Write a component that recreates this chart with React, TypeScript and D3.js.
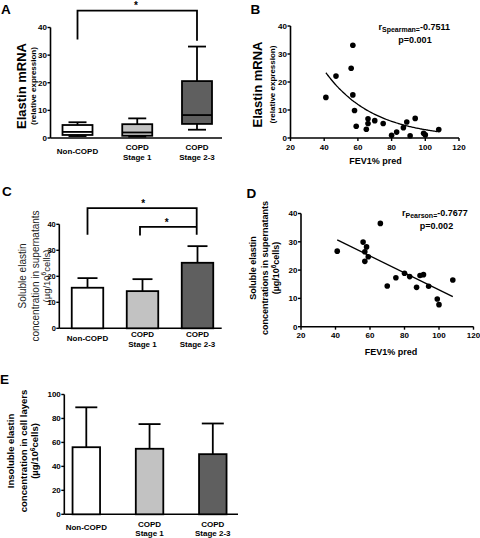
import React from "react";
import * as d3 from "d3";

// ---------- shared categories ----------
const groupKeys = ["Non-COPD", "COPD Stage 1", "COPD Stage 2-3"];
const groupLines = [["Non-COPD"], ["COPD", "Stage 1"], ["COPD", "Stage 2-3"]];
const groupFills = ["#ffffff", "#c2c2c2", "#5f5f5f"];

// ---------- A: elastin mRNA box plot ----------
const mrnaMin = [0.7, 0.5, 3.0];
const mrnaQ1 = [1.1, 0.8, 5.1];
const mrnaMedian = [2.2, 2.0, 8.3];
const mrnaQ3 = [4.7, 5.0, 20.6];
const mrnaMax = [5.7, 7.1, 33.1];
const ticksA = [0, 10, 20, 30, 40];

// ---------- B: mRNA vs FEV1 ----------
const fevB = [41, 47, 56, 57, 57, 58, 59, 65, 66, 66, 70, 75, 80, 83, 87, 89, 91, 94, 99, 100, 108];
const mrnaB = [14.5, 22.1, 24.9, 33.1, 15.4, 9.8, 4.2, 3.1, 6.9, 5.2, 6.2, 5.2, 1.0, 2.1, 3.7, 5.7, 0.8, 7.0, 1.7, 1.1, 3.0];
const fitBStart = 23.3; // fitted value at fitBFrom
const fitBRate = 0.035;
const fitBFrom = 41;
const fitBTo = 107;
const ticksBX = [20, 40, 60, 80, 100, 120];
const ticksBY = [0, 10, 20, 30, 40];

// ---------- C: soluble elastin bars ----------
const solMean = [15.6, 14.3, 25.2];
const solErr = [3.7, 4.6, 6.4];
const ticksC = [0, 10, 20, 30, 40];

// ---------- D: soluble elastin vs FEV1 ----------
const fevD = [41, 56, 58, 57, 57, 59, 66, 70, 75, 80, 83, 87, 89, 91, 94, 99, 100, 108];
const solD = [26.7, 29.9, 28.2, 26.5, 23.1, 24.7, 36.5, 14.4, 17.3, 18.9, 17.7, 13.9, 18.1, 18.4, 14.3, 9.8, 7.8, 16.5];
const fitDIntercept = 43.0;
const fitDSlope = -0.3;
const fitDFrom = 41;
const fitDTo = 108;
const ticksDX = [20, 40, 60, 80, 100, 120];
const ticksDY = [0, 10, 20, 30, 40];

// ---------- E: insoluble elastin bars ----------
const insMean = [56.0, 54.7, 50.2];
const insErr = [33.3, 20.6, 25.6];
const ticksE = [0, 20, 40, 60, 80, 100];

const FONT = "'Liberation Sans', Arial, Helvetica, sans-serif";
const SW = 1.8;

function YAxis({ x, scale, ticks, y0, y1, size = 8 }: any) {
  return (
    <g>
      <line x1={x} x2={x} y1={y0} y2={y1} stroke="#000" strokeWidth={1.6} />
      {ticks.map((t: number) => (
        <g key={t}>
          <line x1={x - 3} x2={x} y1={scale(t)} y2={scale(t)} stroke="#000" strokeWidth={1.4} />
          <text x={x - 3.5} y={scale(t)} dy="0.36em" textAnchor="end" fontSize={size} fontWeight="bold">
            {t}
          </text>
        </g>
      ))}
    </g>
  );
}

function XAxisNum({ y, scale, ticks, x0, x1 }: any) {
  return (
    <g>
      <line x1={x0} x2={x1} y1={y} y2={y} stroke="#000" strokeWidth={1.6} />
      {ticks.map((t: number) => (
        <g key={t}>
          <line x1={scale(t)} x2={scale(t)} y1={y} y2={y + 3} stroke="#000" strokeWidth={1.4} />
          <text x={scale(t)} y={y + 11.5} textAnchor="middle" fontSize={8} fontWeight="bold">
            {t}
          </text>
        </g>
      ))}
    </g>
  );
}

function CatLabels({ xs, y, size = 8 }: any) {
  return (
    <g>
      {groupLines.map((lines, i) => (
        <text key={i} x={xs[i]} y={lines.length === 1 ? y + 3.5 : y} textAnchor="middle" fontSize={size} fontWeight="bold">
          {lines.map((l, j) => (
            <tspan key={j} x={xs[i]} dy={j === 0 ? 0 : 9.5}>
              {l}
            </tspan>
          ))}
        </text>
      ))}
    </g>
  );
}

function RotText({ x, y, size, weight, fill = "#000", children }: any) {
  return (
    <text
      transform={`translate(${x},${y}) rotate(-90)`}
      textAnchor="middle"
      dy="0.35em"
      fontSize={size}
      fontWeight={weight}
      fill={fill}
    >
      {children}
    </text>
  );
}

function Units({ x, y, size, weight, fill = "#000" }: any) {
  return (
    <RotText x={x} y={y} size={size} weight={weight} fill={fill}>
      (µg/10
      <tspan dy={-3.5} fontSize={size * 0.7}>6</tspan>
      <tspan dy={3.5}>cells)</tspan>
    </RotText>
  );
}

function Bracket({ xa, xb, yTop, yLegA, yLegB }: any) {
  return (
    <path d={`M${xa},${yLegA} V${yTop} H${xb} V${yLegB}`} fill="none" stroke="#000" strokeWidth={1.8} />
  );
}

export default function App() {
  // ----- A -----
  const yA = d3.scaleLinear().domain([0, 40]).range([138, 27.5]);
  const xA = d3.scalePoint<string>().domain(groupKeys).range([77.5, 197]);
  const boxW = 30;

  // ----- B -----
  const xB = d3.scaleLinear().domain([20, 120]).range([290.5, 459]);
  const yB = d3.scaleLinear().domain([0, 40]).range([138, 26]);
  const fitBX = d3.range(fitBFrom, fitBTo + 0.01, 1);
  const fitBLine = d3
    .line<number>()
    .x((v) => xB(v))
    .y((v) => yB(fitBStart * Math.exp(-fitBRate * (v - fitBFrom))))
    .curve(d3.curveBasis);

  // ----- C -----
  const yC = d3.scaleLinear().domain([0, 40]).range([328.3, 224.3]);
  const xC = d3.scalePoint<string>().domain(groupKeys).range([87.5, 197.5]);
  const barWC = 31.5;

  // ----- D -----
  const xD = d3.scaleLinear().domain([20, 120]).range([301, 473.5]);
  const yD = d3.scaleLinear().domain([0, 40]).range([326.7, 213.5]);

  // ----- E -----
  const yE = d3.scaleLinear().domain([0, 100]).range([514.3, 394.5]);
  const xE = d3.scalePoint<string>().domain(groupKeys).range([86.3, 212.8]);
  const barWE = 27.5;

  return (
    <svg
      width={480}
      height={538}
      style={{ position: "absolute", left: 0, top: 0, background: "#fff" }}
      fontFamily={FONT}
    >
      <rect x={0} y={0} width={480} height={538} fill="#fff" />

      {/* ================= A ================= */}
      <text x={1} y={13.5} fontSize={13.5} fontWeight="bold">A</text>
      <RotText x={21.7} y={86} size={13} weight="bold">Elastin mRNA</RotText>
      <RotText x={33.3} y={86} size={8} weight="bold">(relative expression)</RotText>
      <YAxis x={50.5} scale={yA} ticks={ticksA} y0={yA(0)} y1={yA(40)} />
      <line x1={50.5} x2={222} y1={yA(0)} y2={yA(0)} stroke="#000" strokeWidth={1.6} />
      {groupKeys.map((g, i) => {
        const cx = xA(g)!;
        return (
          <g key={g}>
            <line x1={cx} x2={cx} y1={yA(mrnaMax[i])} y2={yA(mrnaQ3[i])} stroke="#000" strokeWidth={SW} />
            <line x1={cx} x2={cx} y1={yA(mrnaQ1[i])} y2={yA(mrnaMin[i])} stroke="#000" strokeWidth={SW} />
            <line x1={cx - boxW * 0.3} x2={cx + boxW * 0.3} y1={yA(mrnaMax[i])} y2={yA(mrnaMax[i])} stroke="#000" strokeWidth={SW} />
            <line x1={cx - boxW * 0.3} x2={cx + boxW * 0.3} y1={yA(mrnaMin[i])} y2={yA(mrnaMin[i])} stroke="#000" strokeWidth={SW} />
            <rect
              x={cx - boxW / 2}
              y={yA(mrnaQ3[i])}
              width={boxW}
              height={yA(mrnaQ1[i]) - yA(mrnaQ3[i])}
              fill={groupFills[i]}
              stroke="#000"
              strokeWidth={SW}
            />
            <line x1={cx - boxW / 2} x2={cx + boxW / 2} y1={yA(mrnaMedian[i])} y2={yA(mrnaMedian[i])} stroke="#000" strokeWidth={SW} />
          </g>
        );
      })}
      <Bracket xa={xA(groupKeys[0])} xb={xA(groupKeys[2])} yTop={yA(46.1)} yLegA={yA(35.7)} yLegB={yA(35.2)} />
      <text x={136} y={9} textAnchor="middle" fontSize={10} fontWeight="bold">*</text>
      <CatLabels xs={groupKeys.map((g) => xA(g))} y={150} />

      {/* ================= B ================= */}
      <text x={250.5} y={14} fontSize={13.5} fontWeight="bold">B</text>
      <RotText x={257} y={84.5} size={13} weight="bold">Elastin mRNA</RotText>
      <RotText x={272} y={84.5} size={8} weight="bold">(relative expression)</RotText>
      <YAxis x={xB(20)} scale={yB} ticks={ticksBY} y0={yB(0)} y1={yB(40)} />
      <XAxisNum y={yB(0)} scale={xB} ticks={ticksBX} x0={xB(20)} x1={xB(120)} />
      <path d={fitBLine(fitBX) || ""} fill="none" stroke="#000" strokeWidth={1.3} />
      {fevB.map((f, i) => (
        <circle key={i} cx={xB(f)} cy={yB(mrnaB[i])} r={2.8} fill="#000" />
      ))}
      <text x={378.5} y={30} fontSize={9} fontWeight="bold">
        r<tspan dy={2} fontSize={7}>Spearman=</tspan>
        <tspan dy={-2}>-0.7511</tspan>
      </text>
      <text x={415} y={42.5} textAnchor="middle" fontSize={9} fontWeight="bold">p=0.001</text>
      <text x={375.5} y={163.5} textAnchor="middle" fontSize={9} fontWeight="bold">FEV1% pred</text>

      {/* ================= C ================= */}
      <text x={2} y={195.5} fontSize={13.5} fontWeight="bold">C</text>
      <RotText x={22.7} y={276} size={10} weight="normal" fill="#222">Soluble elastin</RotText>
      <RotText x={35} y={276} size={10} weight="normal" fill="#222">concentration in supernatants</RotText>
      <Units x={46.5} y={276} size={9.5} weight="normal" fill="#222" />
      <YAxis x={59.3} scale={yC} ticks={ticksC} y0={yC(0)} y1={yC(40)} size={7.5} />
      <line x1={59.3} x2={221.7} y1={yC(0)} y2={yC(0)} stroke="#000" strokeWidth={1.6} />
      {groupKeys.map((g, i) => {
        const cx = xC(g)!;
        return (
          <g key={g}>
            <line x1={cx} x2={cx} y1={yC(solMean[i])} y2={yC(solMean[i] + solErr[i])} stroke="#000" strokeWidth={SW} />
            <line x1={cx - 10} x2={cx + 10} y1={yC(solMean[i] + solErr[i])} y2={yC(solMean[i] + solErr[i])} stroke="#000" strokeWidth={SW} />
            <rect
              x={cx - barWC / 2}
              y={yC(solMean[i])}
              width={barWC}
              height={yC(0) - yC(solMean[i])}
              fill={groupFills[i]}
              stroke="#000"
              strokeWidth={SW}
            />
          </g>
        );
      })}
      <Bracket xa={xC(groupKeys[0])} xb={196.7} yTop={yC(46.2)} yLegA={yC(36.0)} yLegB={yC(36.0)} />
      <Bracket xa={140} xb={196.7} yTop={yC(39.0)} yLegA={yC(35.7)} yLegB={yC(39.0)} />
      <text x={143.3} y={206.5} textAnchor="middle" fontSize={10} fontWeight="bold">*</text>
      <text x={166.7} y={226.3} textAnchor="middle" fontSize={10} fontWeight="bold">*</text>
      <CatLabels xs={groupKeys.map((g) => xC(g))} y={337.3} />

      {/* ================= D ================= */}
      <text x={246.5} y={198} fontSize={13.5} fontWeight="bold">D</text>
      <RotText x={252.7} y={268} size={9} weight="bold">Soluble elastin</RotText>
      <RotText x={264.5} y={268} size={9} weight="bold">concentrations in supernatants</RotText>
      <Units x={276} y={268} size={9} weight="bold" />
      <YAxis x={xD(20)} scale={yD} ticks={ticksDY} y0={yD(0)} y1={yD(40)} />
      <XAxisNum y={yD(0)} scale={xD} ticks={ticksDX} x0={xD(20)} x1={xD(120)} />
      <line
        x1={xD(fitDFrom)}
        x2={xD(fitDTo)}
        y1={yD(fitDIntercept + fitDSlope * fitDFrom)}
        y2={yD(fitDIntercept + fitDSlope * fitDTo)}
        stroke="#000"
        strokeWidth={1.3}
      />
      {fevD.map((f, i) => (
        <circle key={i} cx={xD(f)} cy={yD(solD[i])} r={2.8} fill="#000" />
      ))}
      <text x={402} y={216} fontSize={9} fontWeight="bold">
        r<tspan dy={2} fontSize={7}>Pearson=</tspan>
        <tspan dy={-2}>-0.7677</tspan>
      </text>
      <text x={436.5} y={229} textAnchor="middle" fontSize={9} fontWeight="bold">p=0.002</text>
      <text x={391} y={355} textAnchor="middle" fontSize={9} fontWeight="bold">FEV1% pred</text>

      {/* ================= E ================= */}
      <text x={0} y={383.5} fontSize={13.5} fontWeight="bold">E</text>
      <RotText x={10.7} y={451} size={9.5} weight="bold">Insoluble elastin</RotText>
      <RotText x={23.2} y={451} size={9.5} weight="bold">concentration in cell layers</RotText>
      <Units x={35} y={451} size={9.5} weight="bold" />
      <YAxis x={64.3} scale={yE} ticks={ticksE} y0={yE(0)} y1={yE(100)} />
      <line x1={64.3} x2={238} y1={yE(0)} y2={yE(0)} stroke="#000" strokeWidth={1.6} />
      {groupKeys.map((g, i) => {
        const cx = xE(g)!;
        return (
          <g key={g}>
            <line x1={cx} x2={cx} y1={yE(insMean[i])} y2={yE(insMean[i] + insErr[i])} stroke="#000" strokeWidth={SW} />
            <line x1={cx - 11} x2={cx + 11} y1={yE(insMean[i] + insErr[i])} y2={yE(insMean[i] + insErr[i])} stroke="#000" strokeWidth={SW} />
            <rect
              x={cx - barWE / 2}
              y={yE(insMean[i])}
              width={barWE}
              height={yE(0) - yE(insMean[i])}
              fill={groupFills[i]}
              stroke="#000"
              strokeWidth={SW}
            />
          </g>
        );
      })}
      <CatLabels xs={groupKeys.map((g) => xE(g))} y={526.5} />
    </svg>
  );
}
